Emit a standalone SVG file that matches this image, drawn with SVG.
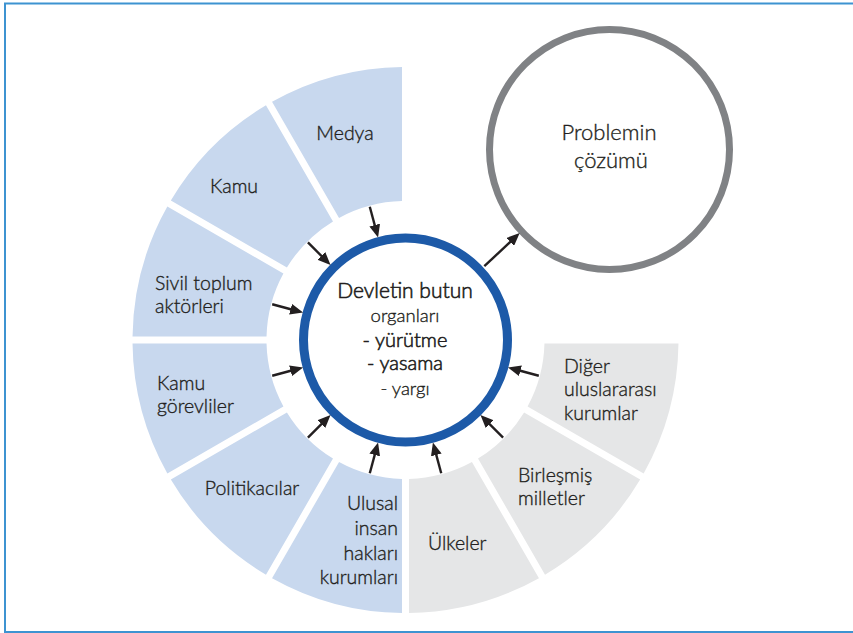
<svg xmlns="http://www.w3.org/2000/svg" width="853" height="633" viewBox="0 0 853 633">
<defs>
<marker id="ah" markerUnits="userSpaceOnUse" markerWidth="13" markerHeight="11" refX="4" refY="5.5" orient="auto">
<path d="M0,0 L13,5.5 L0,11 Z" fill="#231f20"/>
</marker>
</defs>
<style>
.blue{fill:#c8d8ee}
.gray{fill:#e5e6e7}
.t{font-family:Lato,"Noto Sans","DejaVu Sans",sans-serif;font-size:19.5px;font-weight:300;fill:#231f20;stroke:#231f20;stroke-width:0.35}
.c{text-anchor:middle}
.e{text-anchor:end}
.m{font-size:18.5px}
.h{font-size:20px;stroke-width:0.6}
.arr{stroke:#231f20;stroke-width:2.4;fill:none;marker-end:url(#ah)}
</style>
<rect x="5" y="3.5" width="860" height="628.5" fill="#ffffff" stroke="#3d93d1" stroke-width="2"/>

<g id="medya">
<path class="blue" d="M272.04 101.84 A273 273 0 0 1 402 67.02 L402 201.04 A139 139 0 0 0 339.05 217.91 Z"/>
<text class="t c" x="345" y="140">Medya</text>
</g>
<g id="kamu">
<path class="blue" d="M170.84 200.48 A273 273 0 0 1 265.98 105.34 L332.99 221.41 A139 139 0 0 0 286.91 267.49 Z"/>
<text class="t c" x="234" y="193">Kamu</text>
</g>
<g id="sivil">
<path class="blue" d="M132.52 336.5 A273 273 0 0 1 167.34 206.54 L283.41 273.55 A139 139 0 0 0 266.54 336.5 Z"/>
<text class="t" x="155" y="290">Sivil toplum</text>
<text class="t" x="155" y="313">aktörleri</text>
</g>
<g id="kamu-gorevliler">
<path class="blue" d="M167.34 473.46 A273 273 0 0 1 132.52 343.5 L266.54 343.5 A139 139 0 0 0 283.41 406.45 Z"/>
<text class="t" x="157" y="390">Kamu</text>
<text class="t" x="157" y="413">görevliler</text>
</g>
<g id="politikacilar">
<path class="blue" d="M265.98 574.66 A273 273 0 0 1 170.84 479.52 L286.91 412.51 A139 139 0 0 0 332.99 458.59 Z"/>
<text class="t c" x="252" y="495">Politikacılar</text>
</g>
<g id="ulusal">
<path class="blue" d="M402 612.98 A273 273 0 0 1 272.04 578.16 L339.05 462.09 A139 139 0 0 0 402 478.96 Z"/>
<text class="t e" x="398" y="510">Ulusal</text>
<text class="t e" x="398" y="535">insan</text>
<text class="t e" x="398" y="560">hakları</text>
<text class="t e" x="398" y="584">kurumları</text>
</g>
<g id="ulkeler">
<path class="gray" d="M538.96 578.16 A273 273 0 0 1 409 612.98 L409 478.96 A139 139 0 0 0 471.95 462.09 Z"/>
<text class="t" x="428" y="550">Ülkeler</text>
</g>
<g id="birlesmis">
<path class="gray" d="M640.16 479.52 A273 273 0 0 1 545.02 574.66 L478.01 458.59 A139 139 0 0 0 524.09 412.51 Z"/>
<text class="t" x="518" y="482">Birleşmiş</text>
<text class="t" x="518" y="505">milletler</text>
</g>
<g id="diger">
<path class="gray" d="M678.48 343.5 A273 273 0 0 1 643.66 473.46 L527.59 406.45 A139 139 0 0 0 544.46 343.5 Z"/>
<text class="t" x="564" y="373">Diğer</text>
<text class="t" x="564" y="396">uluslararası</text>
<text class="t" x="564" y="420">kurumlar</text>
</g>

<g id="devlet">
<circle cx="405.5" cy="340" r="102" fill="#ffffff" stroke="#1d5aa8" stroke-width="9"/>
<text class="t c h" x="405" y="298" style="font-size:21px">Devletin butun</text>
<text class="t c m" x="405" y="322">organları</text>
<text class="t c h" x="405" y="347">- yürütme</text>
<text class="t c h" x="405" y="370">- yasama</text>
<text class="t c m" x="405" y="395">- yargı</text>
</g>

<g id="problem">
<circle cx="609.5" cy="149.5" r="120" fill="#ffffff" stroke="#808285" stroke-width="7"/>
<text class="t c" x="609" y="140" style="font-size:22px">Problemin</text>
<text class="t c" x="611" y="168" style="font-size:22px">çözümü</text>
</g>

<g id="connectors">
<line class="arr" x1="369.78" y1="206.70" x2="375.74" y2="228.92"/>
<line class="arr" x1="307.92" y1="242.42" x2="324.18" y2="258.68"/>
<line class="arr" x1="272.20" y1="304.28" x2="294.42" y2="310.24"/>
<line class="arr" x1="272.20" y1="375.72" x2="294.42" y2="369.76"/>
<line class="arr" x1="307.92" y1="437.58" x2="324.18" y2="421.32"/>
<line class="arr" x1="369.78" y1="473.30" x2="375.74" y2="451.08"/>
<line class="arr" x1="441.22" y1="473.30" x2="435.26" y2="451.08"/>
<line class="arr" x1="503.08" y1="437.58" x2="486.82" y2="421.32"/>
<line class="arr" x1="538.80" y1="375.72" x2="516.58" y2="369.76"/>
<line class="arr" x1="484.33" y1="266.19" x2="513.16" y2="239.20"/>
</g>
</svg>
